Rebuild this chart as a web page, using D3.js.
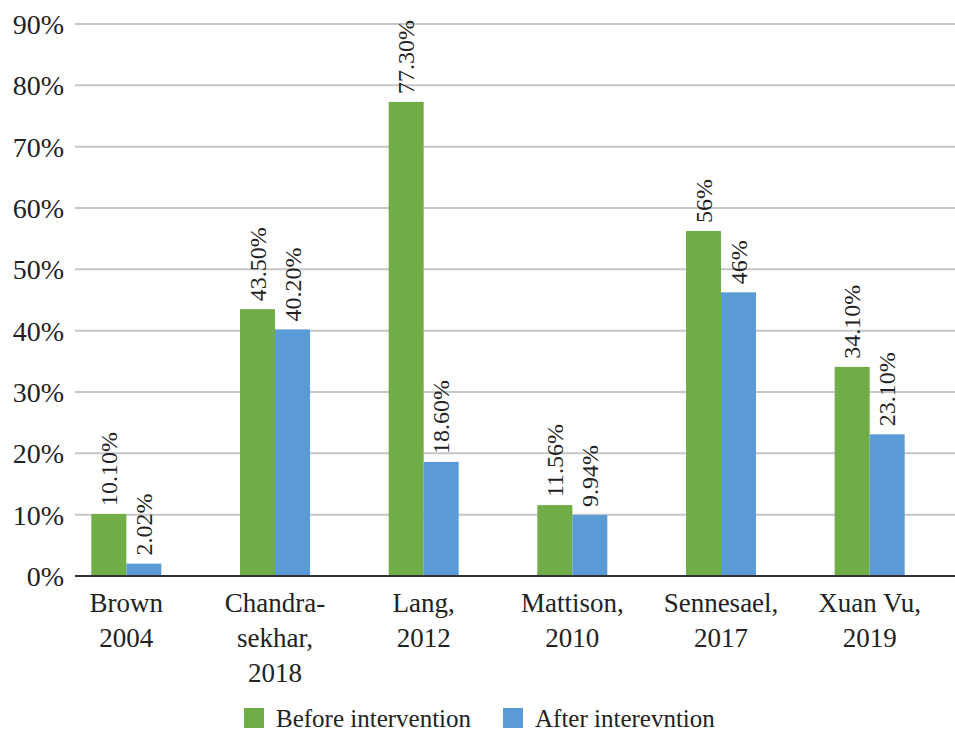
<!DOCTYPE html>
<html>
<head>
<meta charset="utf-8">
<script src="https://cdn.jsdelivr.net/npm/d3@7"></script>
</head>
<body style="margin:0">
<script>
// data
const categories = [["Brown", "2004"], ["Chandra-", "sekhar,", "2018"], ["Lang,", "2012"],
                    ["Mattison,", "2010"], ["Sennesael,", "2017"], ["Xuan Vu,", "2019"]];
const beforeValues = [10.10, 43.50, 77.30, 11.56, 56.25, 34.10];
const afterValues = [2.02, 40.20, 18.60, 9.94, 46.25, 23.10];
const beforeLabels = ["10.10%", "43.50%", "77.30%", "11.56%", "56%", "34.10%"];
const afterLabels = ["2.02%", "40.20%", "18.60%", "9.94%", "46%", "23.10%"];
const yTicks = [0, 10, 20, 30, 40, 50, 60, 70, 80, 90];
const seriesNames = ["Before intervention", "After interevntion"];
const colors = ["#70ad47", "#5b9bd5"];

const width = 955, height = 732;
const fonts = ["Liberation Serif"];
const fontOf = () => fonts[0];

const svg = d3.select("body")
  .append("svg")
  .attr("width", width)
  .attr("height", height);

const x = d3.scaleBand()
  .domain(d3.range(categories.length))
  .range([52, 944]);

const xInner = d3.scaleBand()
  .domain([0, 1])
  .range([x.bandwidth() / 2 - 35, x.bandwidth() / 2 + 35]);

const y = d3.scaleLinear()
  .domain([0, 90])
  .range([576, 24]);

// gridlines
svg.append("g")
  .selectAll("line")
  .data(yTicks.slice(1))
  .enter()
  .append("line")
  .attr("x1", 75)
  .attr("x2", 955)
  .attr("y1", d => y(d))
  .attr("y2", d => y(d))
  .style("stroke", "#c6c6c6")
  .style("stroke-width", 2);

// y tick labels
svg.append("g")
  .selectAll("text")
  .data(yTicks)
  .enter()
  .append("text")
  .attr("x", 64)
  .attr("y", d => y(d) + 10)
  .attr("text-anchor", "end")
  .style("font-family", fontOf)
  .attr("font-size", "28px")
  .attr("fill", "#222")
  .text(d => d + "%");

// bars
const series = [beforeValues, afterValues];
const labels = [beforeLabels, afterLabels];

series.forEach((vals, s) => {
  const g = svg.append("g");
  g.selectAll("rect")
    .data(vals)
    .enter()
    .append("rect")
    .attr("x", (d, i) => x(i) + xInner(s))
    .attr("y", d => y(d))
    .attr("width", xInner.bandwidth())
    .attr("height", d => y(0) - y(d))
    .style("fill", colors[s]);

  g.selectAll("text")
    .data(vals)
    .enter()
    .append("text")
    .attr("transform", (d, i) => {
      const cx = x(i) + xInner(s) + xInner.bandwidth() / 2 + 8;
      return "translate(" + cx + "," + (y(d) - 8) + ") rotate(-90)";
    })
    .style("font-family", fontOf)
    .attr("font-size", "24px")
    .attr("fill", "#222")
    .text((d, i) => labels[s][i]);
});

// x axis line
svg.append("line")
  .attr("x1", 75)
  .attr("x2", 955)
  .attr("y1", y(0))
  .attr("y2", y(0))
  .style("stroke", "#333")
  .style("stroke-width", 2);

// category labels
const cat = svg.append("g")
  .selectAll("text")
  .data(categories)
  .enter()
  .append("text")
  .attr("text-anchor", "middle")
  .style("font-family", fontOf)
  .attr("font-size", "27px")
  .attr("fill", "#222")
  .attr("x", (d, i) => x(i) + x.bandwidth() / 2)
  .attr("y", 612);

cat.selectAll("tspan")
  .data(d => d)
  .enter()
  .append("tspan")
  .attr("x", function () { return d3.select(this.parentNode).attr("x"); })
  .attr("dy", (d, i) => i === 0 ? 0 : 35)
  .text(d => d);

// legend
const legendX = [244, 503];
const legend = svg.append("g").attr("id", "legend");
seriesNames.forEach((name, s) => {
  legend.append("rect")
    .attr("x", legendX[s])
    .attr("y", 708)
    .attr("width", 20)
    .attr("height", 20)
    .style("fill", colors[s]);
  legend.append("text")
    .attr("x", legendX[s] + 32)
    .attr("y", 727)
    .style("font-family", fontOf)
    .attr("font-size", "25px")
    .attr("fill", "#222")
    .text(name);
});
</script>
</body>
</html>
